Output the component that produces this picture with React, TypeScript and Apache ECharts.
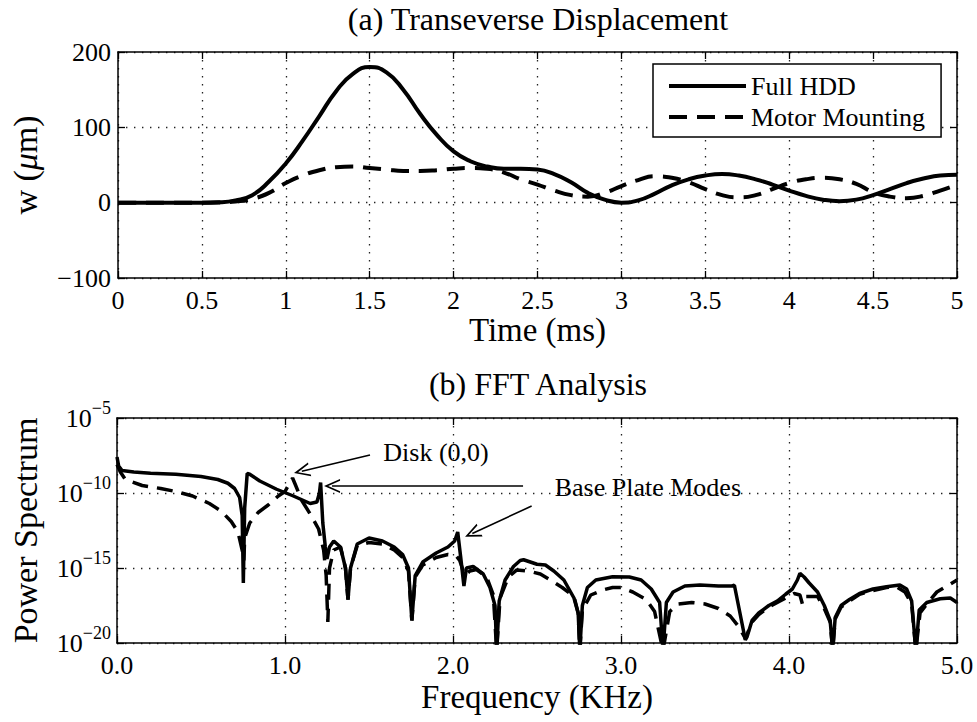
import React, { useEffect, useRef } from 'react';
import * as echarts from 'echarts';

const FONT = '"Liberation Serif", "Times New Roman", serif';

// (a) Transverse displacement, time in ms
const timeMs = [
  0, 0.1, 0.2, 0.3, 0.4, 0.5, 0.6, 0.7, 0.8, 0.9,
  1.0, 1.1, 1.2, 1.3, 1.4, 1.5, 1.6, 1.7, 1.8, 1.9,
  2.0, 2.1, 2.2, 2.3, 2.4, 2.5, 2.6, 2.7, 2.8, 2.9,
  3.0, 3.1, 3.2, 3.3, 3.4, 3.5, 3.6, 3.7, 3.8, 3.9,
  4.0, 4.1, 4.2, 4.3, 4.4, 4.5, 4.6, 4.7, 4.8, 4.9, 5.0,
];
const fullHddW = [
  0, 0, 0, 0, 0, 0, 0.5, 3, 10, 28,
  52, 82, 115, 148, 171, 180, 173, 150, 118, 90,
  68, 55, 48, 45, 45, 44, 38, 27, 13, 4,
  0, 3, 12, 23, 31, 36, 38, 36, 31, 24,
  16, 9, 4, 2, 4, 10, 18, 26, 32, 36, 37,
];
const motorMountingW = [
  0, 0, 0, 0, 0, 0, 0.3, 1.5, 5, 13,
  26, 36, 43, 47, 48, 46, 44, 42, 42, 43,
  45, 46, 45, 40, 31, 24, 16, 10, 8, 13,
  22, 30, 35, 33, 27, 18, 10, 7, 10, 18,
  26, 31, 33, 31, 25, 14, 8, 6, 9, 16, 24,
];

// (b) FFT analysis, frequency in kHz, power as log10 exponent
const fftFreqFull = [
  0.0, 0.01, 0.03, 0.1, 0.2, 0.35, 0.5, 0.6, 0.66, 0.7, 0.73, 0.745, 0.752, 0.76, 0.775, 0.79, 0.85, 0.95,
  1.05, 1.15, 1.19, 1.205, 1.212, 1.225, 1.24, 1.25, 1.265, 1.29, 1.33, 1.36, 1.375, 1.39, 1.43, 1.5, 1.58,
  1.65, 1.7, 1.735, 1.755, 1.775, 1.82, 1.9, 1.97, 2.01, 2.028, 2.045, 2.065, 2.08, 2.12, 2.18, 2.22, 2.25,
  2.26, 2.275, 2.31, 2.36, 2.39, 2.4, 2.42, 2.5, 2.55, 2.6, 2.66, 2.72, 2.745, 2.755, 2.77, 2.8, 2.85, 2.95,
  3.05, 3.12, 3.18, 3.23, 3.25, 3.27, 3.31, 3.38, 3.47, 3.58, 3.66, 3.675, 3.74, 3.75, 3.78, 3.82, 3.88,
  3.93, 3.98, 4.02, 4.05, 4.065, 4.09, 4.12, 4.17, 4.21, 4.245, 4.26, 4.275, 4.31, 4.36, 4.42, 4.5, 4.58,
  4.66, 4.7, 4.73, 4.755, 4.775, 4.82, 4.9, 4.96, 5.0,
];
const fftLogFull = [
  -7.6, -8.2, -8.5, -8.6, -8.68, -8.75, -8.9, -9.1, -9.35, -9.7, -10.3, -11.5, -16.0, -11.0, -8.7, -8.75, -9.2, -9.75,
  -10.2, -10.7, -10.6, -10.0, -9.3, -12.0, -13.6, -14.4, -13.6, -13.2, -13.6, -15.0, -17.1, -15.0, -13.4, -13.0, -13.2,
  -13.6, -14.1, -15.0, -18.5, -15.5, -14.6, -14.0, -13.6, -13.2, -12.6, -14.2, -16.2, -15.0, -14.9, -15.4, -16.3, -17.5,
  -20.5, -17.2, -15.8, -14.9, -14.6, -14.5, -14.45, -14.75, -14.8, -15.2, -15.8, -17.0, -18.0, -20.5, -17.5, -16.3, -15.8, -15.58,
  -15.6, -15.8, -16.4, -17.3, -20.5, -17.3, -16.6, -16.2, -16.13, -16.2, -16.2, -16.15, -19.8, -19.6, -18.5, -18.0, -17.5,
  -17.2, -16.75, -16.4, -15.8, -15.36, -15.6, -16.0, -16.6, -17.5, -18.5, -20.5, -18.3, -17.5, -17.1, -16.7, -16.4, -16.25,
  -16.13, -16.4, -17.2, -20.5, -17.8, -17.3, -17.05, -17.0, -17.3,
];
const fftFreqMotor = [
  0.0, 0.02, 0.05, 0.15, 0.26, 0.35, 0.45, 0.55, 0.62, 0.68, 0.72, 0.745, 0.755, 0.76, 0.79, 0.84, 0.9, 0.96,
  1.0, 1.03, 1.045, 1.06, 1.1, 1.15, 1.2, 1.23, 1.245, 1.255, 1.265, 1.29, 1.33, 1.36, 1.375, 1.39, 1.43, 1.5,
  1.58, 1.65, 1.7, 1.735, 1.755, 1.775, 1.82, 1.9, 1.97, 2.02, 2.04, 2.07, 2.1, 2.14, 2.2, 2.24, 2.26, 2.28,
  2.33, 2.38, 2.45, 2.52, 2.58, 2.65, 2.72, 2.745, 2.755, 2.77, 2.82, 2.89, 2.95, 3.0, 3.07, 3.15, 3.2, 3.25,
  3.29, 3.34, 3.42, 3.5, 3.58, 3.65, 3.7, 3.74, 3.78, 3.82, 3.88, 3.93, 3.98, 4.03, 4.065, 4.08, 4.1, 4.13,
  4.17, 4.21, 4.245, 4.26, 4.275, 4.31, 4.36, 4.42, 4.5, 4.58, 4.64, 4.69, 4.73, 4.755, 4.78, 4.82, 4.88,
  4.94, 5.0,
];
const fftLogMotor = [
  -8.1, -8.6, -9.1, -9.5, -9.7, -9.9, -10.2, -10.7, -11.2, -11.9, -12.6, -13.8, -14.5, -13.0, -12.0, -11.3, -10.8, -10.2,
  -9.9, -9.3, -9.0, -9.4, -10.5, -11.4, -12.4, -13.8, -15.5, -18.6, -15.0, -13.8, -13.6, -15.0, -17.1, -15.0, -13.5, -13.3,
  -13.4, -13.8, -14.3, -15.2, -18.5, -15.6, -14.8, -14.3, -14.1, -14.2, -14.5, -15.5, -15.2, -15.1, -15.6, -16.8, -20.5, -17.0,
  -15.6, -15.13, -15.2, -15.4, -15.8, -16.3, -16.9, -18.0, -20.5, -17.8, -16.8, -16.47, -16.3, -16.3, -16.6, -17.1, -17.9, -20.5,
  -17.9, -17.4, -17.3, -17.4, -17.7, -18.2, -18.9, -19.7, -18.6, -18.1, -17.6, -17.3, -17.0, -16.7, -16.8, -17.4, -16.9, -16.9,
  -16.9, -17.7, -18.6, -20.5, -18.4, -17.6, -17.2, -16.75, -16.5, -16.3, -16.25, -16.6, -17.4, -20.5, -18.0, -17.4, -16.6,
  -16.2, -15.8,
];

// annotations in (kHz, log10 power)
const annotationTexts = [
  { text: 'Disk (0,0)', at: [1.899, -7.33] },
  { text: 'Base Plate Modes', at: [3.16, -9.6] },
];
const annotationArrows = [
  { from: [1.506, -7.47], to: [1.1, -8.55] },
  { from: [2.417, -9.53], to: [1.28, -9.53] },
  { from: [2.468, -10.87], to: [2.115, -12.7] },
];

const timeTicks = { min: 0, max: 5, interval: 0.5 };
const wTicks = { min: -100, max: 200, interval: 100 };
const freqTicks = { min: 0, max: 5, interval: 1 };

const ARROW = 'path://M5,0 L10,13 L8.7,13 L5,3.4 L1.3,13 L0,13 Z';

const black = '#000';
const frameLine = { color: black, width: 1.5 };
const gridLine = { show: true, lineStyle: { color: '#222', width: 1.3, type: [1.4, 6.6] } };
const tickStyle = { show: true, inside: true, length: 7, lineStyle: { color: black, width: 1.3 } };
const labelStyle = { color: black, fontFamily: FONT, fontSize: 26 };
const nameStyle = { color: black, fontFamily: FONT, fontSize: 33 };

function pow10(v: number) {
  return Math.pow(10, v);
}

function minusFmt(v: number) {
  return v < 0 ? '\u2212' + String(Math.abs(v)) : String(v);
}

export default function App() {
  const ref = useRef<HTMLDivElement>(null);

  useEffect(() => {
    if (!ref.current) return;
    const chart = echarts.init(ref.current, undefined, { renderer: 'svg' });

    const logLabel = {
      show: true,
      margin: 6,
      formatter: (v: number) => {
        const e = Math.round(Math.log10(v));
        return `{b|10}{e|${e < 0 ? '\u2212' : ''}${Math.abs(e)}}`;
      },
      rich: {
        b: { color: black, fontFamily: FONT, fontSize: 26 },
        e: { color: black, fontFamily: FONT, fontSize: 18, padding: [0, 0, 20, 0] },
      },
    };

    const option: any = {
      animation: false,
      backgroundColor: '#ffffff',
      textStyle: { fontFamily: FONT },
      grid: [
        { left: 117, top: 52, width: 840, height: 226 },
        { left: 117, top: 418, width: 840, height: 225 },
      ],
      xAxis: [
        {
          gridIndex: 0, type: 'value', position: 'bottom', ...timeTicks,
          name: 'Time (ms)', nameLocation: 'middle', nameGap: 34, nameTextStyle: nameStyle,
          axisLine: { show: true, onZero: false, lineStyle: frameLine },
          axisTick: tickStyle,
          axisLabel: { ...labelStyle, margin: 9 },
          splitLine: gridLine,
        },
        {
          gridIndex: 0, type: 'value', position: 'top', ...timeTicks,
          axisLine: { show: true, onZero: false, lineStyle: frameLine },
          axisTick: tickStyle, axisLabel: { show: false }, splitLine: { show: false },
        },
        {
          gridIndex: 1, type: 'value', position: 'bottom', ...freqTicks,
          name: 'Frequency (KHz)', nameLocation: 'middle', nameGap: 37, nameTextStyle: nameStyle,
          axisLine: { show: true, onZero: false, lineStyle: frameLine },
          axisTick: tickStyle,
          axisLabel: { ...labelStyle, margin: 9, formatter: (v: number) => v.toFixed(1) },
          splitLine: gridLine,
        },
        {
          gridIndex: 1, type: 'value', position: 'top', ...freqTicks,
          axisLine: { show: true, onZero: false, lineStyle: frameLine },
          axisTick: tickStyle, axisLabel: { show: false }, splitLine: { show: false },
        },
      ],
      yAxis: [
        {
          gridIndex: 0, type: 'value', position: 'left', ...wTicks,
          name: 'w ({i|\u03bc}m)', nameLocation: 'middle', nameGap: 76, nameRotate: 90,
          nameTextStyle: { ...nameStyle, fontSize: 34, rich: { i: { ...nameStyle, fontSize: 34, fontStyle: 'italic' } } },
          axisLine: { show: true, onZero: false, lineStyle: frameLine },
          axisTick: tickStyle,
          axisLabel: { ...labelStyle, margin: 7, formatter: minusFmt },
          splitLine: gridLine,
        },
        {
          gridIndex: 0, type: 'value', position: 'right', ...wTicks,
          axisLine: { show: true, onZero: false, lineStyle: frameLine },
          axisTick: tickStyle, axisLabel: { show: false }, splitLine: { show: false },
        },
        {
          gridIndex: 1, type: 'log', logBase: 10, position: 'left',
          min: 1e-20, max: 1e-5, interval: 5,
          name: 'Power Spectrum', nameLocation: 'middle', nameGap: 75, nameRotate: 90,
          nameTextStyle: { ...nameStyle, fontSize: 34 },
          axisLine: { show: true, onZero: false, lineStyle: frameLine },
          axisTick: tickStyle,
          axisLabel: logLabel,
          splitLine: gridLine,
          minorTick: { show: false },
        },
        {
          gridIndex: 1, type: 'log', logBase: 10, position: 'right',
          min: 1e-20, max: 1e-5, interval: 5,
          axisLine: { show: true, onZero: false, lineStyle: frameLine },
          axisTick: tickStyle, axisLabel: { show: false }, splitLine: { show: false },
        },
      ],
      legend: {
        data: ['Full HDD', 'Motor Mounting'],
        left: 653, top: 64, orient: 'vertical',
        backgroundColor: '#ffffff', borderColor: black, borderWidth: 1.5, borderRadius: 0,
        padding: [9, 16, 7, 14],
        itemWidth: 77, itemHeight: 26, itemGap: 5,
        itemStyle: { color: 'rgba(0,0,0,0)', borderWidth: 0, opacity: 0 },
        lineStyle: { color: black, width: 4, type: 'inherit' },
        textStyle: { color: black, fontFamily: FONT, fontSize: 26 },
        selectedMode: false,
      },
      graphic: [
        {
          type: 'text', x: 538, y: 19,
          style: { text: '(a) Transeverse Displacement', fill: black, fontFamily: FONT, fontSize: 32, align: 'center', verticalAlign: 'middle' },
        },
        {
          type: 'text', x: 538, y: 384,
          style: { text: '(b) FFT Analysis', fill: black, fontFamily: FONT, fontSize: 32, align: 'center', verticalAlign: 'middle' },
        },
      ],
      series: [
        {
          name: 'Full HDD', type: 'line', xAxisIndex: 0, yAxisIndex: 0,
          data: timeMs.map((t, i) => [t, fullHddW[i]]),
          symbol: 'none', showSymbol: false, smooth: 0.5,
          lineStyle: { color: black, width: 4 }, itemStyle: { color: black },
        },
        {
          name: 'Motor Mounting', type: 'line', xAxisIndex: 0, yAxisIndex: 0,
          data: timeMs.map((t, i) => [t, motorMountingW[i]]),
          symbol: 'none', showSymbol: false, smooth: 0.5,
          lineStyle: { color: black, width: 4, type: [18, 10] }, itemStyle: { color: black },
        },
        {
          name: 'Full HDD FFT', type: 'line', xAxisIndex: 2, yAxisIndex: 2,
          data: fftFreqFull.map((f, i) => [f, pow10(fftLogFull[i])]),
          symbol: 'none', showSymbol: false,
          lineStyle: { color: black, width: 3.5 }, itemStyle: { color: black },
          markLine: {
            silent: true, animation: false,
            symbol: ['none', ARROW], symbolSize: [14, 16],
            lineStyle: { color: black, width: 1.6, type: 'solid' },
            label: { show: false },
            data: annotationArrows.map((a) => [
              { coord: [a.from[0], pow10(a.from[1])] },
              { coord: [a.to[0], pow10(a.to[1])] },
            ]),
          },
          markPoint: {
            silent: true, animation: false, symbol: 'circle', symbolSize: 0,
            itemStyle: { color: 'transparent' },
            data: annotationTexts.map((a) => ({
              coord: [a.at[0], pow10(a.at[1])],
              label: { show: true, position: 'inside', formatter: a.text, color: black, fontFamily: FONT, fontSize: 26 },
            })),
          },
        },
        {
          name: 'Motor Mounting FFT', type: 'line', xAxisIndex: 2, yAxisIndex: 2,
          data: fftFreqMotor.map((f, i) => [f, pow10(fftLogMotor[i])]),
          symbol: 'none', showSymbol: false,
          lineStyle: { color: black, width: 3.5, type: [16, 9] }, itemStyle: { color: black },
        },
      ],
    };

    chart.setOption(option);
    return () => chart.dispose();
  }, []);

  return (
    <div
      ref={ref}
      style={{ position: 'absolute', left: 0, top: 0, width: 977, height: 722, background: '#fff' }}
    />
  );
}
